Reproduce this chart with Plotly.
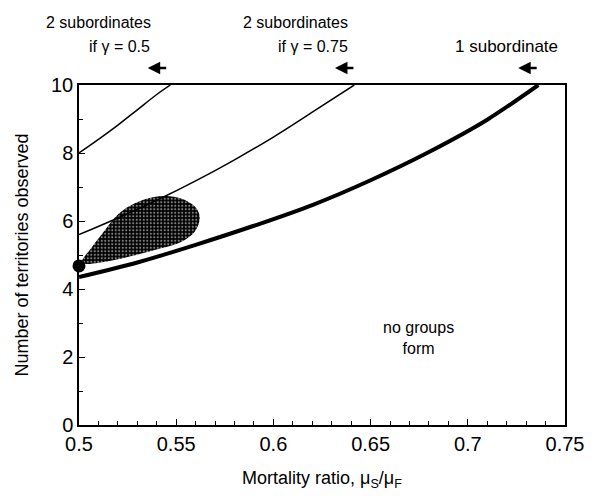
import plotly.graph_objects as go

# Curves
sub1_x = [0.5, 0.53, 0.56, 0.59, 0.62, 0.65, 0.68, 0.71, 0.7363]
sub1_y = [4.35, 4.78, 5.30, 5.86, 6.47, 7.20, 8.03, 8.98, 10.0]

g075_x = [0.5, 0.52, 0.54, 0.56, 0.58, 0.60, 0.62, 0.6416]
g075_y = [5.6, 6.09, 6.61, 7.18, 7.80, 8.47, 9.20, 10.0]

g05_x = [0.5, 0.51, 0.52, 0.53, 0.54, 0.547]
g05_y = [8.0, 8.4, 8.82, 9.27, 9.72, 10.0]

# Shaded region (observed)
blob_x = [0.5015, 0.5065, 0.5125, 0.5205, 0.529, 0.538, 0.5466, 0.5545, 0.5605,
          0.5621, 0.5596, 0.5528, 0.539, 0.522, 0.5101, 0.5032, 0.5015]
blob_y = [4.80, 5.22, 5.67, 6.22, 6.53, 6.70, 6.73, 6.62, 6.37,
          6.08, 5.69, 5.39, 5.15, 4.90, 4.77, 4.74, 4.80]

point_x = [0.5]
point_y = [4.68]

FONT = "Liberation Sans, Arial, sans-serif"

fig = go.Figure()

fig.add_trace(go.Scatter(
    x=blob_x, y=blob_y, mode="lines", fill="toself",
    line=dict(width=0, color="black", shape="spline"),
    fillcolor="black",
    fillpattern=dict(shape=".", fgcolor="white", bgcolor="black", size=3.5, solidity=0.3),
    hoverinfo="skip", showlegend=False))

fig.add_trace(go.Scatter(x=g05_x, y=g05_y, mode="lines",
                         line=dict(color="black", width=1.5, shape="spline"), showlegend=False))
fig.add_trace(go.Scatter(x=g075_x, y=g075_y, mode="lines",
                         line=dict(color="black", width=1.5, shape="spline"), showlegend=False))
fig.add_trace(go.Scatter(x=sub1_x, y=sub1_y, mode="lines",
                         line=dict(color="black", width=4, shape="spline", smoothing=0.8),
                         showlegend=False))
fig.add_trace(go.Scatter(x=point_x, y=point_y, mode="markers",
                         marker=dict(color="black", size=13), cliponaxis=False, showlegend=False))

# page offset (body margin) of 8px
OFF = 8
W, H = 598, 491
L, T = 77 - OFF, 85 - OFF
R = (W + OFF) - 565
B = (H + OFF) - 425
pw, ph = W - L - R, H - T - B

def px(xp):
    return (xp - OFF - L) / pw

def py(yp):
    return (H - B - (yp - OFF)) / ph

ann = []
def txt(s, xr, yc, size=16.5, anchor="right"):
    ann.append(dict(text=s, x=px(xr), y=py(yc), xref="paper", yref="paper",
                    xanchor=anchor, yanchor="middle", showarrow=False,
                    font=dict(family=FONT, size=size, color="black")))

def arrow(x_tip, x_tail, yc):
    ann.append(dict(text="", x=px(x_tip), y=py(yc), xref="paper", yref="paper",
                    ax=x_tail - x_tip, ay=0, showarrow=True, arrowhead=2,
                    arrowsize=1, arrowwidth=2.5, arrowcolor="black"))

txt("2 subordinates", 151, 22, 16)
txt("if γ = 0.5", 150, 47, 16)
arrow(146, 166, 68)
txt("2 subordinates", 349, 22, 16)
txt("if γ = 0.75", 349, 47, 16)
arrow(334, 354, 68)
txt("1 subordinate", 560, 47, 17)
arrow(518, 538, 68)

ann.append(dict(text="no groups<br>form", x=0.6747, y=2.57, xref="x", yref="y",
                showarrow=False, align="center",
                font=dict(family=FONT, size=16, color="black")))

fig.update_layout(
    width=W, height=H,
    margin=dict(l=L, r=R, t=T, b=B),
    paper_bgcolor="white", plot_bgcolor="white",
    font=dict(family=FONT, size=18, color="black"),
    annotations=ann,
    xaxis=dict(range=[0.5, 0.75], dtick=0.05, tick0=0.5, ticks="inside", ticklen=6,
               tickwidth=1, tickcolor="black", showline=True, linecolor="black",
               linewidth=1.5, mirror=True, showgrid=False, zeroline=False,
               minor=dict(dtick=0.01, ticks="inside", ticklen=4, tickcolor="black"),
               title=dict(text="Mortality ratio, μ<sub>S</sub>/μ<sub>F</sub>",
                          font=dict(size=18), standoff=18),
               tickfont=dict(size=20)),
    yaxis=dict(range=[0, 10], dtick=2, ticks="inside", ticklen=6, tickwidth=1,
               tickcolor="black", showline=True, linecolor="black", linewidth=1.5,
               mirror=True, showgrid=False, zeroline=False,
               minor=dict(dtick=1, ticks="inside", ticklen=4, tickcolor="black"),
               title=dict(text="Number of territories observed", font=dict(size=18),
                          standoff=18),
               tickfont=dict(size=20)),
)

fig.write_html("out.html")
